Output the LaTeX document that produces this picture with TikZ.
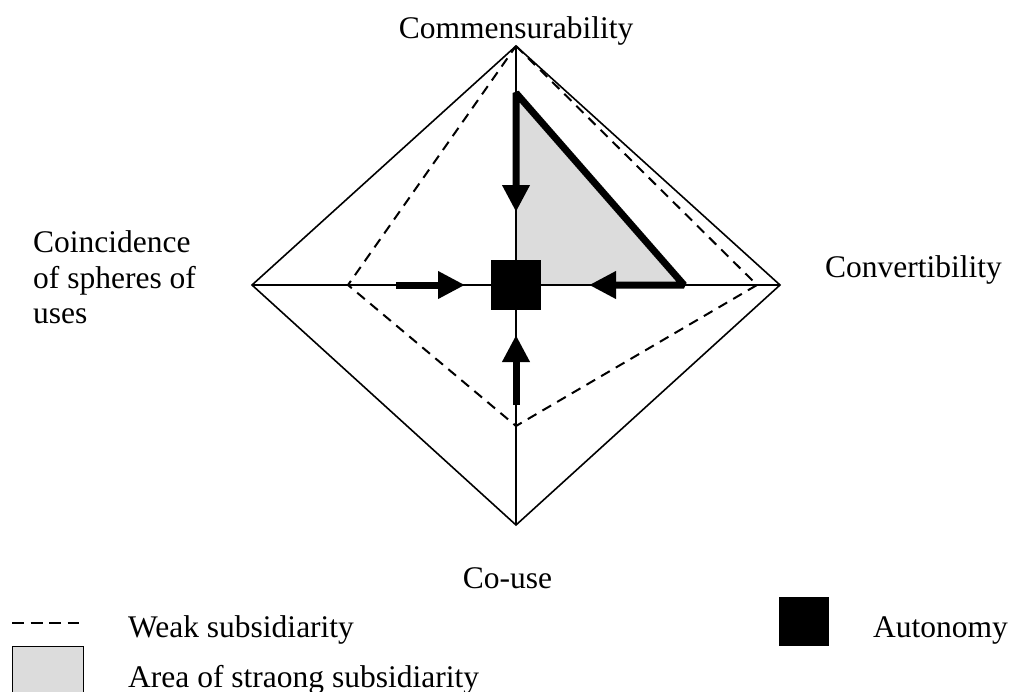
\documentclass[tikz,border=0pt]{standalone}
\usepackage{fontspec}
\setmainfont{Liberation Serif}
\usetikzlibrary{arrows.meta}
\definecolor{areagray}{HTML}{DCDCDC}
\begin{document}
\begin{tikzpicture}[x=1pt,y=-1pt,
  thinline/.style={line width=1.6pt},
  weakline/.style={line width=2pt, dash pattern=on 10pt off 7pt},
  strongline/.style={line width=7pt, line join=bevel},
  bigtip/.tip={Triangle[width=26pt,length=27pt]},
  lab/.style={font=\fontsize{31.5}{36}\selectfont, inner sep=0pt}]
\useasboundingbox (0,0) rectangle (1011,691);
% main coordinates
\coordinate (C) at (516,285);
\coordinate (T) at (516,46);
\coordinate (R) at (780,285);
\coordinate (B) at (516,525);
\coordinate (L) at (252,285);
\coordinate (DR) at (757,285);
\coordinate (DB) at (516,426);
\coordinate (DL) at (348,285);
\coordinate (TT) at (516,93);
\coordinate (TR) at (684,285);
\coordinate (AN) at (516,212);
\coordinate (AE) at (589,285);
\coordinate (AW) at (465,285);
\coordinate (AS) at (516,335);
\coordinate (SW) at (396,285);
\coordinate (SS) at (516,405);
% strong subsidiarity area
\fill[areagray] (TT) -- (C) -- (TR) -- cycle;
% diamond and axes
\draw[thinline] (T) -- (R) -- (B) -- (L) -- cycle;
\draw[thinline] (T) -- (B);
\draw[thinline] (L) -- (R);
% weak subsidiarity
\draw[weakline] (T) -- (DR) -- (DB) -- (DL) -- cycle;
% autonomy
\node[fill=black, minimum size=50pt, inner sep=0pt] (auto) at (C) {};
% arrows
\draw[strongline, bigtip-bigtip] (AN) -- (TT) -- (TR) -- (AE);
\draw[line width=7pt, -bigtip] (SW) -- (AW);
\draw[line width=7pt, -bigtip] (SS) -- (AS);
% labels
\node[lab, anchor=base] (comm) at (516,38) {Commensurability};
\node[lab, anchor=base west] (conv) at (825,277) {Convertibility};
\node[lab, anchor=base west] (coin1) at (33,252) {Coincidence};
\node[lab, anchor=base west] (coin2) at (33,288) {of spheres of};
\node[lab, anchor=base west] (coin3) at (33,323) {uses};
\node[lab, anchor=base] (couse) at (507.5,588) {Co-use};
% legend
\coordinate (LD1) at (12,623);
\coordinate (LD2) at (79,623);
\draw[line width=2pt, dash pattern=on 12pt off 6.5pt] (LD1) -- (LD2);
\node[lab, anchor=base west] (weak) at (128,637) {Weak subsidiarity};
\draw[line width=1pt, fill=areagray] (12.5,646) rectangle (83,692);
\node[lab, anchor=base west] (area) at (128,687) {Area of straong subsidiarity};
\fill[black] (779,597) rectangle (829,646);
\node[lab, anchor=base west] (autotxt) at (873,637) {Autonomy};
\end{tikzpicture}
\end{document}
